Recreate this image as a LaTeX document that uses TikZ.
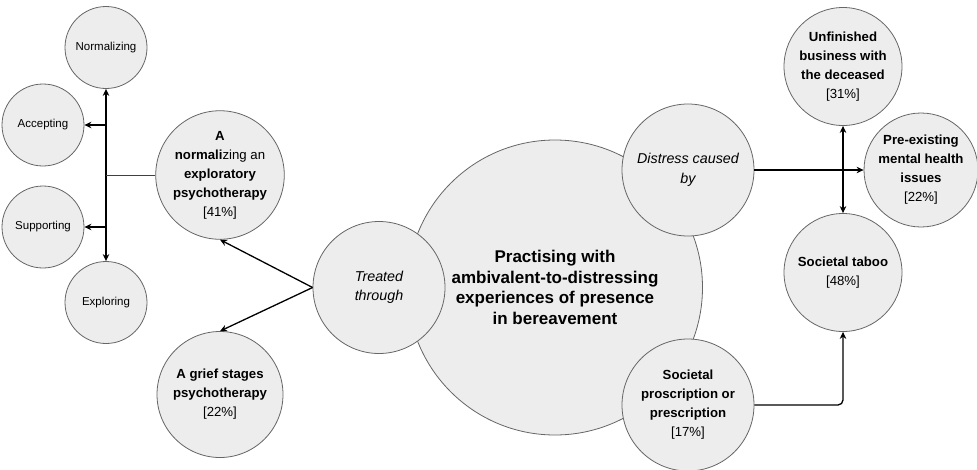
\documentclass[tikz,border=0pt]{standalone}
\usepackage{fontspec}
\setmainfont{Liberation Sans}
\usetikzlibrary{arrows.meta}
\begin{document}
\begin{tikzpicture}[x=1pt,y=-1pt,
  circ/.style={circle,draw=black!60,line width=0.8pt,fill=black!7,inner sep=0pt,align=center,text=black},
  smallc/.style={circ,minimum size=82pt,font=\fontsize{11.5}{14}\selectfont},
  midc/.style={circ,minimum size=126pt,font=\fontsize{13.2}{19}\selectfont},
  catc/.style={circ,minimum size=132pt,font=\fontsize{14.3}{19.5}\selectfont\itshape},
  outc/.style={circ,minimum size=118pt,font=\fontsize{13.2}{19}\selectfont},
  arr/.style={line width=1.3pt,-{Stealth[length=7pt,width=6.5pt]}},
  darr/.style={line width=1.3pt,{Stealth[length=7pt,width=6.5pt]}-{Stealth[length=7pt,width=6.5pt]}},
  thin/.style={line width=0.8pt,draw=black!75}
]
\useasboundingbox (0,0) rectangle (977,469);
% main
\node[circ,minimum size=295pt,font=\fontsize{17}{20.5}\selectfont\bfseries] (main) at (555,287.5)
  {Practising with\\ambivalent-to-distressing\\experiences of presence\\in bereavement};
% category circles
\node[catc] (tr) at (379,287.5) {Treated\\through};
\node[catc] (dis) at (688,170) {Distress caused\\by};
\node[catc,font=\fontsize{13.2}{19}\selectfont] (soc) at (688,405) {\textbf{Societal}\\\textbf{proscription or}\\\textbf{prescription}\\{}[17\%]};
% left
\node[midc] (ann) at (220,175) {\textbf{A}\\\textbf{normali}zing an\\\textbf{exploratory}\\\textbf{psychotherapy}\\{}[41\%]};
\node[midc] (gr) at (220,394.5) {\textbf{A grief stages}\\\textbf{psychotherapy}\\{}[22\%]};
\node[smallc] (norm) at (106,47.5) {Normalizing};
\node[smallc] (acc) at (43,125) {Accepting};
\node[smallc] (sup) at (43,227) {Supporting};
\node[smallc] (expl) at (106,302.5) {Exploring};
% right
\node[outc] (unf) at (843,66.5) {\textbf{Unfinished}\\\textbf{business with}\\\textbf{the deceased}\\{}[31\%]};
\node[outc,minimum size=114pt] (pre) at (921,170) {\textbf{Pre-existing}\\\textbf{mental health}\\\textbf{issues}\\{}[22\%]};
\node[outc] (tab) at (843,272.5) {\textbf{Societal taboo}\\{}[48\%]};
% connectors left
\draw[darr] (norm.south) -- (expl.north);
\draw[arr] (norm.south |- acc.east) -- (acc.east);
\draw[arr] (norm.south |- sup.east) -- (sup.east);
\draw[thin] (ann.west) -- (ann.west -| norm.south);
\draw[arr] (tr.west) -- (ann.south);
\draw[arr] (tr.west) -- (gr.north);
% connectors right
\draw[arr] (dis.east) -- (pre.west);
\draw[darr] (unf.south) -- (tab.north);
\draw[arr,rounded corners=5pt] (soc.east) -- (soc.east -| tab.south) -- (tab.south);
\end{tikzpicture}
\end{document}
